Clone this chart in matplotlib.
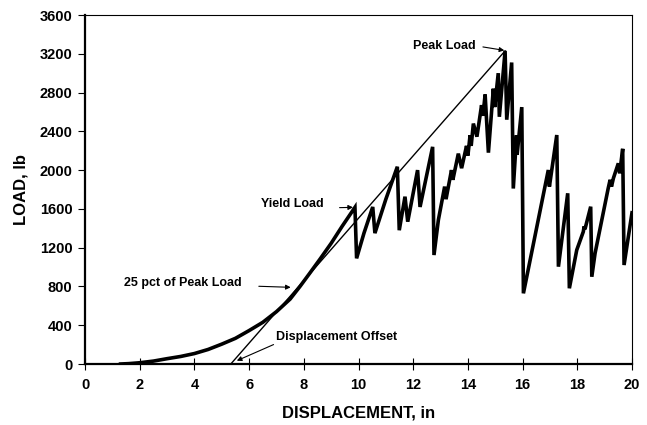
"""Load vs displacement curve with yield / peak / offset annotations."""
import matplotlib
matplotlib.use("Agg")
import matplotlib.pyplot as plt

plt.rcParams["font.family"] = ["Liberation Sans", "DejaVu Sans"]
plt.rcParams["font.weight"] = "bold"

disp_in = [1.3, 1.6, 2.0, 2.5, 3.0, 3.5, 4.0, 4.5, 5.0, 5.5, 6.0, 6.5, 7.0, 7.5, 7.86,
           8.2, 8.6, 9.0, 9.4, 9.87,
           9.93, 10.2, 10.52, 10.6, 11.0, 11.42, 11.49, 11.7, 11.8, 12.16, 12.25, 12.71, 12.76,
           12.92, 13.15, 13.2, 13.4, 13.45, 13.65, 13.77, 13.95, 14.0, 14.08, 14.12, 14.2,
           14.33, 14.5, 14.55, 14.63, 14.75, 14.93, 14.98, 15.11, 15.15, 15.36, 15.42, 15.6,
           15.66, 15.78, 15.8, 15.97, 16.03,
           16.94, 16.98, 17.25, 17.31, 17.65, 17.71, 17.98, 18.22, 18.25, 18.28, 18.49, 18.53,
           18.65, 19.13, 19.2, 19.25, 19.32, 19.5, 19.55, 19.66, 19.71, 20.0]
load_lb = [0, 4, 13, 30, 55, 78, 108, 150, 205, 265, 345, 430, 540, 670, 800,
           930, 1085, 1245, 1420, 1616,
           1090, 1350, 1620, 1350, 1700, 2035, 1380, 1726, 1468, 2000, 1620, 2240, 1124,
           1485, 1830, 1700, 2000, 1900, 2170, 2020, 2250, 2150, 2360, 2250, 2480,
           2345, 2670, 2560, 2780, 2180, 2840, 2650, 3000, 2550, 3230, 2520, 3110,
           1810, 2360, 2160, 2650, 729,
           2001, 1830, 2362, 1004, 1761, 781, 1176, 1365, 1420, 1390, 1623, 900,
           1142, 1812, 1900, 1830, 1916, 2070, 1967, 2220, 1021, 1560]

# displacement-offset line through the 25 pct point up to the peak
offset_x = [5.33, 15.36]
offset_y = [0, 3230]

x_ticks = list(range(0, 21, 2))
y_ticks = list(range(0, 3601, 400))

fig = plt.figure(figsize=(6.47, 4.25), dpi=100)
ax = fig.add_axes([0.1314, 0.1435, 0.8454, 0.8212])

ax.plot(disp_in, load_lb, color="black", lw=2.6, solid_joinstyle="miter")
ax.plot(offset_x, offset_y, color="black", lw=1.0)

ax.set_xlim(0, 20)
ax.set_ylim(0, 3600)
ax.set_xticks(x_ticks)
ax.set_yticks(y_ticks)
ax.tick_params(axis="x", direction="inout", length=8, width=0.8, labelsize=10.5, pad=6)
ax.tick_params(axis="y", direction="out", length=5, width=0.8, labelsize=10.5, pad=4)
for s in ("left", "bottom"):
    ax.spines[s].set_linewidth(1.6)
for s in ("top", "right"):
    ax.spines[s].set_linewidth(0.8)

ax.set_xlabel("DISPLACEMENT, in", fontsize=12, fontweight="bold", labelpad=10)
ax.set_ylabel("LOAD, lb", fontsize=12, fontweight="bold", labelpad=8)

arrow = dict(arrowstyle="-|>", lw=0.8, color="black", mutation_scale=7, shrinkA=0, shrinkB=0)
ax.annotate("Peak Load", xy=(15.33, 3235), xytext=(13.13, 3283), fontsize=9,
            ha="center", va="center", arrowprops=dict(arrow, relpos=(1.12, 0.4)))
ax.annotate("Yield Load", xy=(9.8, 1616), xytext=(7.59, 1650), fontsize=9,
            ha="center", va="center", arrowprops=dict(arrow, relpos=(1.25, 0.2)))
ax.annotate("25 pct of Peak Load", xy=(7.52, 791), xytext=(3.56, 839), fontsize=9,
            ha="center", va="center", arrowprops=dict(arrow, relpos=(1.15, 0.2)))
ax.annotate("Displacement Offset", xy=(5.55, 34), xytext=(9.21, 275), fontsize=9,
            ha="center", va="center", arrowprops=dict(arrow, relpos=(0.0, 0.0)))

fig.savefig("out.png", dpi=100)
